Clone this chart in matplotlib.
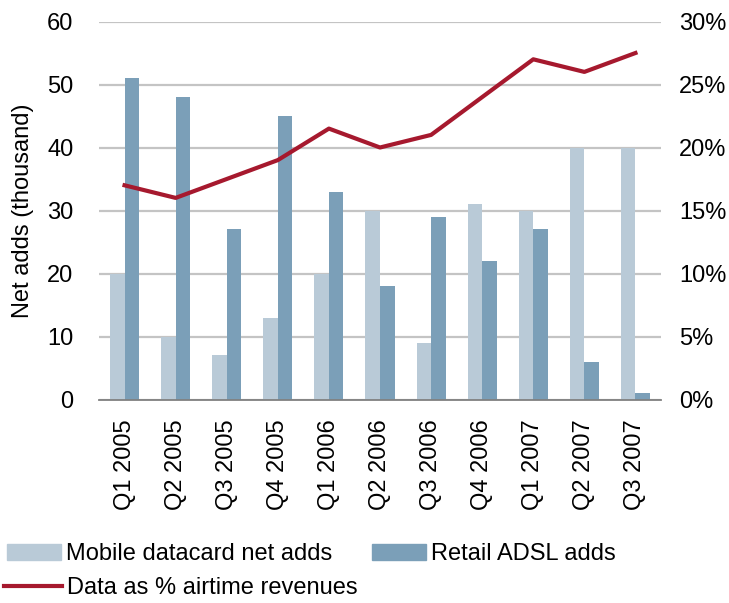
import matplotlib
matplotlib.use("Agg")
import matplotlib.pyplot as plt
import numpy as np
from matplotlib.patches import Patch
from matplotlib.lines import Line2D

plt.rcParams['font.family'] = ['Liberation Sans', 'DejaVu Sans']

quarters = ["Q1 2005", "Q2 2005", "Q3 2005", "Q4 2005", "Q1 2006", "Q2 2006",
            "Q3 2006", "Q4 2006", "Q1 2007", "Q2 2007", "Q3 2007"]
datacard_adds = [20, 10, 7, 13, 20, 30, 9, 31, 30, 40, 40]
adsl_adds = [51, 48, 27, 45, 33, 18, 29, 22, 27, 6, 1]
data_pct = [17.0, 16.0, 17.5, 19.0, 21.5, 20.0, 21.0, 24.0, 27.0, 26.0, 27.5]

light = "#B9CAD7"
dark = "#7B9FB8"
red = "#A6192E"
grid = "#C4C4C4"
FS = 17

fig = plt.figure(figsize=(7.29, 6.03), dpi=100)
ax = fig.add_axes([99/729, 1 - 399.5/603, 562/729, 378/603])
ax2 = ax.twinx()

x = np.arange(len(quarters))
w = 0.285
ax.bar(x - w/2, datacard_adds, w, color=light, zorder=2)
ax.bar(x + w/2, adsl_adds, w, color=dark, zorder=2)

ax.set_xlim(-0.5, len(quarters) - 0.5)
ax.set_ylim(0, 60)
ax.set_yticks(range(0, 61, 10))
ax.yaxis.grid(True, color=grid, linewidth=1.6, zorder=0)
ax.set_axisbelow(True)
for s in ["top", "right", "left"]:
    ax.spines[s].set_visible(False)
ax.spines["bottom"].set_color("#808080")
ax.spines["bottom"].set_linewidth(1.3)
ax.tick_params(axis="both", length=0, labelsize=FS)
ax.tick_params(axis="y", pad=18.5)
ax.set_xticks(x)
ax.set_xticklabels(quarters, rotation=90, fontsize=FS)
ax.tick_params(axis="x", pad=14.5)
ax.set_ylabel("Net adds (thousand)", fontsize=FS)
ax.yaxis.set_label_coords((34 - 99) / 562, 0.5)

ax2.plot(x, data_pct, color=red, linewidth=3.0, zorder=3)
ax2.set_ylim(0, 30)
ax2.set_yticks(range(0, 31, 5))
ax2.set_yticklabels([f"{v}%" for v in range(0, 31, 5)])
ax2.tick_params(axis="y", length=0, labelsize=FS, pad=13)
for s in ["top", "right", "left", "bottom"]:
    ax2.spines[s].set_visible(False)

handles1 = [Patch(color=light, label="Mobile datacard net adds"),
            Patch(color=dark, label="Retail ADSL adds")]
fig.legend(handles=handles1, loc="center left", bbox_to_anchor=(7/729, 1 - 554/603),
           ncol=2, frameon=False, fontsize=FS, handlelength=2.29, handleheight=0.64,
           handletextpad=0.21, columnspacing=1.7, borderaxespad=0, borderpad=0)
handles2 = [Line2D([0], [0], color=red, linewidth=3.0, label="Data as % airtime revenues")]
fig.legend(handles=handles2, loc="center left", bbox_to_anchor=(4/729, 1 - 588/603),
           frameon=False, fontsize=FS, handlelength=2.45, handletextpad=0.2,
           borderaxespad=0, borderpad=0)

fig.savefig("out.png", dpi=100)
